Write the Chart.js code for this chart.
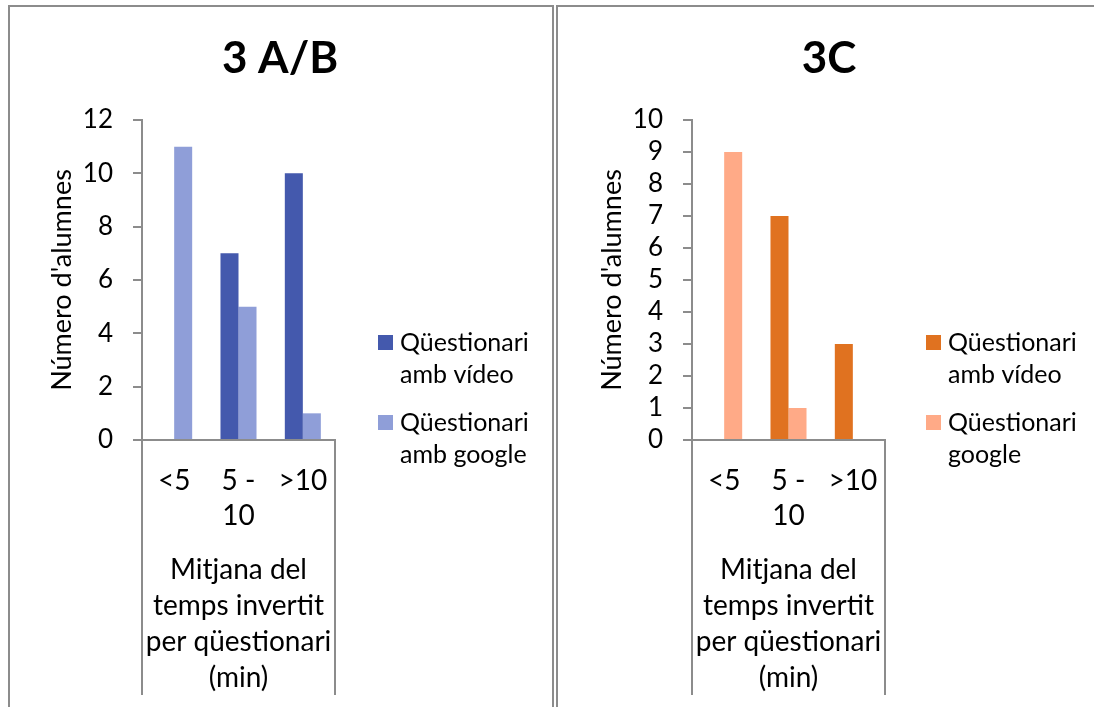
<!DOCTYPE html>
<html>
<head>
<meta charset="utf-8">
<script src="https://cdn.jsdelivr.net/npm/chart.js@4.4.1/dist/chart.umd.min.js"></script>
<style>
    body { margin: 0; background: #fff; overflow: hidden; width: 1094px; height: 707px; position: relative; }
    .box { position: absolute; top: 5px; height: 740px; border: 2px solid #8c8c8c; box-sizing: border-box; }
    #boxA { left: 8px; width: 546px; }
    #boxB { left: 556px; width: 560px; }
    canvas { position: absolute; top: 0; }
    #chartA { left: 0; }
    #chartB { left: 556px; }
</style>
</head>
<body>
<div class="box" id="boxA"></div>
<div class="box" id="boxB"></div>
<canvas id="chartA" width="560" height="707"></canvas>
<canvas id="chartB" width="552" height="707"></canvas>
<script>
// categories (mean time per questionnaire, minutes)
const categories = ['<5', ['5 -', '10'], '>10'];
const groupLabel = ['Mitjana del', 'temps invertit', 'per qüestionari', '(min)'];
const yTitle = "Número d'alumnes";

// 3 A/B
const titleA = '3 A/B';
const seriesNamesA = ['Qüestionari\namb vídeo', 'Qüestionari\namb google'];
const videoA = [0, 7, 10];
const googleA = [11, 5, 1];

// 3C
const titleB = '3C';
const seriesNamesB = ['Qüestionari\namb vídeo', 'Qüestionari\ngoogle'];
const videoB = [0, 7, 3];
const googleB = [9, 1, 0];

const axisGrey = '#8c8c8c';
Chart.defaults.font.family = 'Lato, Carlito, sans-serif';
Chart.defaults.color = '#000';

// title, legend and the box round the category group
const decor = {
    id: 'decor',
    afterDraw(chart, args, opts) {
        const {ctx, chartArea} = chart;
        ctx.save();

        ctx.strokeStyle = axisGrey;
        ctx.lineWidth = 2;
        ctx.beginPath();
        ctx.moveTo(Math.round(chartArea.left), chartArea.bottom);
        ctx.lineTo(Math.round(chartArea.left), 695);
        ctx.moveTo(Math.round(chartArea.right), chartArea.bottom - 1);
        ctx.lineTo(Math.round(chartArea.right), 695);
        ctx.stroke();

        ctx.fillStyle = '#000';
        ctx.font = 'bold 44px Lato, sans-serif';
        ctx.textAlign = 'center';
        ctx.textBaseline = 'alphabetic';
        ctx.fillText(opts.title, opts.titleX, 73);

        ctx.font = '25px Lato, sans-serif';
        ctx.textAlign = 'left';
        ctx.textBaseline = 'middle';
        const entryY = [342, 422];
        chart.data.datasets.forEach((ds, i) => {
            const y = entryY[i];
            ctx.fillStyle = ds.backgroundColor;
            ctx.fillRect(opts.legendX, y - 7, 15, 15);
            ctx.fillStyle = '#000';
            ds.label.split('\n').forEach((line, j) => {
                ctx.fillText(line, opts.legendX + 22, y + 1 + j * 32);
            });
        });
        ctx.restore();
    }
};

function makeChart(id, cfg) {
    return new Chart(document.getElementById(id), {
        type: 'bar',
        data: {
            labels: categories,
            datasets: [{
                label: cfg.names[0],
                data: cfg.video,
                backgroundColor: cfg.colors[0],
                categoryPercentage: 0.56,
                barPercentage: 1
            }, {
                label: cfg.names[1],
                data: cfg.google,
                backgroundColor: cfg.colors[1],
                categoryPercentage: 0.56,
                barPercentage: 1
            }]
        },
        options: {
            responsive: false,
            animation: false,
            layout: {
                padding: {left: 0, top: 120, right: cfg.padRight, bottom: 0}
            },
            plugins: {
                legend: false,
                tooltip: {enabled: false},
                decor: {title: cfg.title, titleX: cfg.titleX, legendX: cfg.legendX}
            },
            scales: {
                x: {
                    grid: {display: false, drawTicks: false},
                    border: {display: true, color: axisGrey, width: 2},
                    ticks: {
                        font: {size: 28, lineHeight: 1.25},
                        padding: 23,
                        maxRotation: 0,
                        autoSkip: false
                    },
                    title: {
                        display: true,
                        text: groupLabel,
                        font: {size: 28, lineHeight: 1.286},
                        padding: {top: 0, bottom: 11}
                    },
                    afterFit(scale) { scale.height = 267; }
                },
                y: {
                    min: 0,
                    max: cfg.yMax,
                    ticks: {stepSize: cfg.step, padding: 20, autoSkip: false, font: {size: 26, lineHeight: 1}},
                    grid: {drawOnChartArea: false, drawTicks: true, tickLength: 9, color: axisGrey, lineWidth: 2},
                    border: {display: true, color: axisGrey, width: 2},
                    title: {
                        display: true,
                        text: yTitle,
                        font: {size: 27},
                        padding: {top: cfg.yTitlePad}
                    },
                    afterFit(scale) { scale.width = cfg.axisX; }
                }
            }
        },
        plugins: [decor]
    });
}

makeChart('chartA', {
    title: titleA, names: seriesNamesA, video: videoA, google: googleA,
    colors: ['#4459AD', '#8F9ED8'],
    yMax: 12, step: 2,
    axisX: 142, padRight: 225, yTitlePad: 46,
    titleX: 280, legendX: 378
});

makeChart('chartB', {
    title: titleB, names: seriesNamesB, video: videoB, google: googleB,
    colors: ['#E07220', '#FFAA87'],
    yMax: 10, step: 1,
    axisX: 136, padRight: 223, yTitlePad: 40,
    titleX: 273, legendX: 370
});
</script>
</body>
</html>
